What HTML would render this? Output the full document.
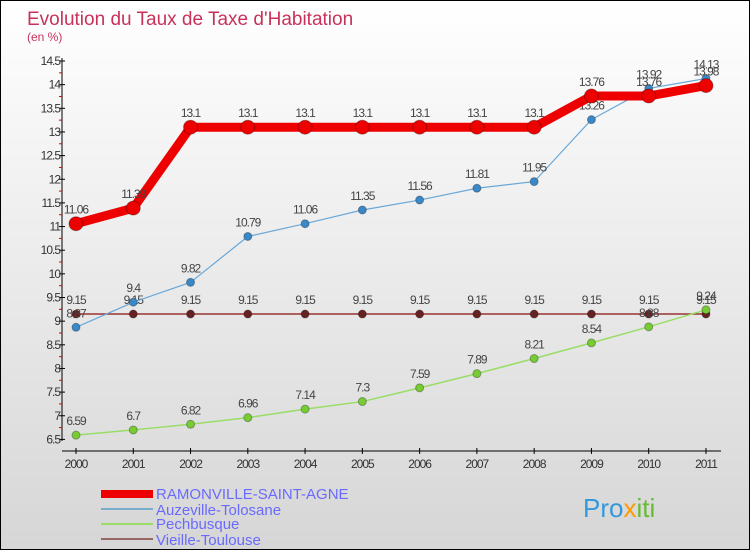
<!DOCTYPE html>
<html><head><meta charset="utf-8"><style>
body{margin:0}
#c{width:750px;height:550px;position:relative;overflow:hidden;background:linear-gradient(#ffffff,#d6d6d6);box-sizing:border-box;border:1px solid #000;font-family:"Liberation Sans",sans-serif}
</style></head><body>
<div id="c">
<svg id="s" width="750" height="550" style="position:absolute;left:0;top:0">
<text x="26" y="24" font-size="19" fill="#c8325a">Evolution du Taux de Taxe d'Habitation</text>
<text x="26" y="40" font-size="12" fill="#c8325a">(en %)</text>
<g id="axes"></g><g id="series"></g>
<g>
<rect x="100" y="489" width="52" height="8" fill="#e00"/>
<text x="155" y="498" font-size="15" fill="#6a6aff">RAMONVILLE-SAINT-AGNE</text>
<line x1="100" y1="508" x2="152" y2="508" stroke="#7aaccc" stroke-width="2"/>
<text x="155" y="514" font-size="15" fill="#6a6aff">Auzeville-Tolosane</text>
<line x1="100" y1="523" x2="152" y2="523" stroke="#99dd66" stroke-width="2"/>
<text x="155" y="528" font-size="15" fill="#6a6aff">Pechbusque</text>
<line x1="100" y1="538" x2="152" y2="538" stroke="#996666" stroke-width="2"/>
<text x="155" y="544" font-size="15" fill="#6a6aff">Vieille-Toulouse</text>
</g>
<text x="582" y="516" font-size="26" fill="#3399dd">Pro<tspan fill="#ff9900">x</tspan><tspan fill="#66bb33">iti</tspan></text>
</svg>
</div>
<script>
const years=["2000","2001","2002","2003","2004","2005","2006","2007","2008","2009","2010","2011"];
const yTicks=[6.5,7,7.5,8,8.5,9,9.5,10,10.5,11,11.5,12,12.5,13,13.5,14,14.5];
const ramonville=[11.06,11.39,13.1,13.1,13.1,13.1,13.1,13.1,13.1,13.76,13.76,13.98];
const auzeville=[8.87,9.4,9.82,10.79,11.06,11.35,11.56,11.81,11.95,13.26,13.92,14.13];
const pechbusque=[6.59,6.7,6.82,6.96,7.14,7.3,7.59,7.89,8.21,8.54,8.88,9.24];
const vieille=[9.15,9.15,9.15,9.15,9.15,9.15,9.15,9.15,9.15,9.15,9.15,9.15];
const NS="http://www.w3.org/2000/svg";
const X=i=>75+i*57.27, Y=v=>60+(14.5-v)*47.3;
function mk(t,a,p){const e=document.createElementNS(NS,t);for(const k in a)e.setAttribute(k,a[k]);p.appendChild(e);return e;}
const ax=document.getElementById('axes'), sg=document.getElementById('series');
const yl=mk('line',{x1:61,y1:57,x2:61,y2:440,stroke:'#000'},ax);


const xl=mk('line',{x1:61,y1:450,x2:720,y2:450,stroke:'#000'},ax);


yTicks.forEach((v,i)=>{
  mk('line',{x1:58,y1:Y(v),x2:64,y2:Y(v),stroke:'#000'},ax);
  if(i<yTicks.length-1)mk('line',{x1:58,y1:Y(v+0.25),x2:61,y2:Y(v+0.25),stroke:'#d00'},ax);
  const t=mk('text',{x:59,y:Y(v)+4,'font-size':12,'text-anchor':'end',fill:'#333','letter-spacing':'-1'},ax);
  t.textContent=String(v);
  
  
});
years.forEach((y,i)=>{
  mk('line',{x1:X(i),y1:447,x2:X(i),y2:453,stroke:'#000'},ax);
  const t=mk('text',{x:X(i),y:467,'font-size':12,'text-anchor':'middle',fill:'#333','letter-spacing':'-1'},ax);
  t.textContent=y;
  
  
});
function series(name,data,color,w,r,dot){
  const g=mk('g',{},sg);
  
  
  const pl=mk('polyline',{points:data.map((v,i)=>X(i)+','+Y(v)).join(' '),fill:'none',stroke:color,'stroke-width':w},g);
  
  
  data.forEach((v,i)=>{
    const c=mk('circle',{cx:X(i),cy:Y(v),r:r,fill:dot,stroke:'rgba(0,0,0,0.3)','stroke-width':1},g);
    
    
    const t=mk('text',{x:X(i),y:Y(v)-10,'font-size':12,'text-anchor':'middle',fill:'#444','letter-spacing':'-1'},g);
    t.textContent=String(v);
    
    
  });
}
series('vieille',vieille,'#993333',1.5,4,'#662222');
series('pechbusque',pechbusque,'#99dd66',1.5,4,'#77cc33');
series('auzeville',auzeville,'#6aa8d8',1.2,4,'#3a88c8');
series('ramonville',ramonville,'#ee0000',9,7,'#ee0000');
</script>
</body></html>
